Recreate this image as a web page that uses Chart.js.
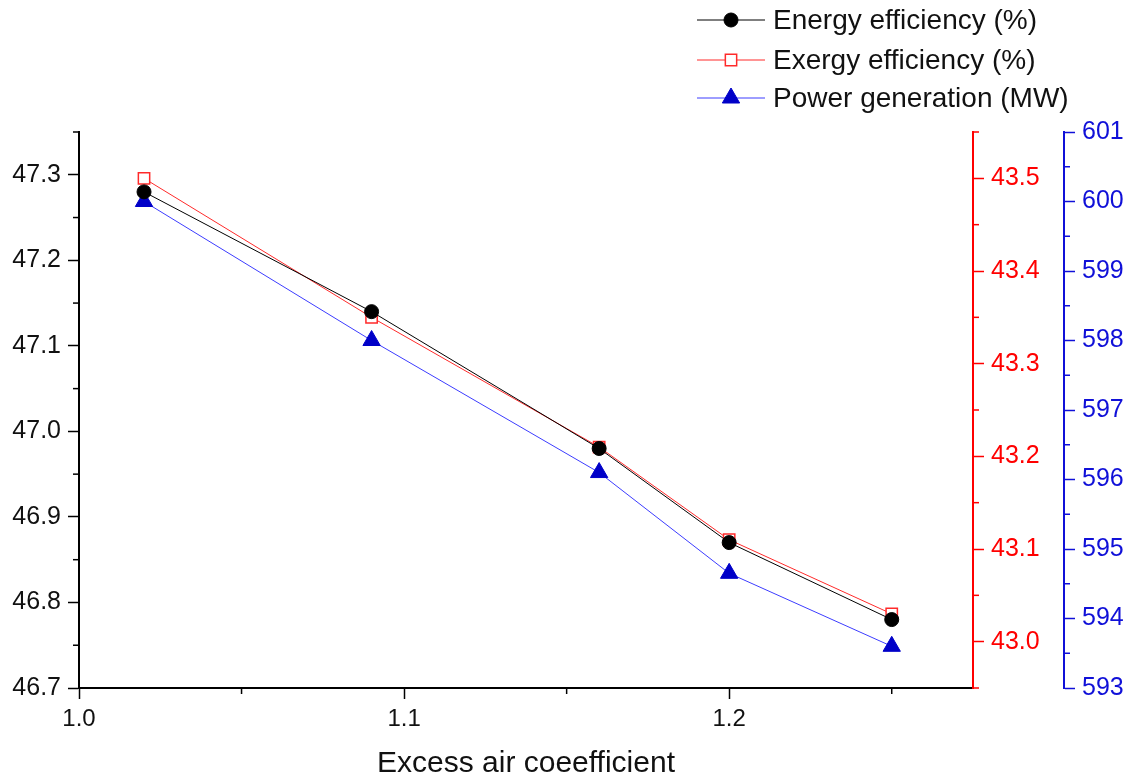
<!DOCTYPE html>
<html><head><meta charset="utf-8">
<script src="https://cdn.jsdelivr.net/npm/chart.js@4/dist/chart.umd.min.js"></script>
<style>html,body{margin:0;padding:0;background:#fff;}#wrap{width:1129px;height:780px;}</style>
</head><body><div id="wrap"><canvas id="c" width="1129" height="780"></canvas></div>
<script>
const excessAir = [1.02, 1.09, 1.16, 1.20, 1.25];
const energyEff = [47.28, 47.14, 46.98, 46.87, 46.78];
const exergyEff = [43.50, 43.35, 43.21, 43.11, 43.03];
const powerGen = [600.0, 598.0, 596.1, 594.65, 593.6];
const seriesNames = ['Energy efficiency (%)', 'Exergy efficiency (%)', 'Power generation (MW)'];
const xTitle = 'Excess air coeefficient';

const FONT = "'Liberation Sans', Arial, sans-serif";
const RED = '#ff0000';
const BLUE = '#1010d8';
const majorStep = {x: 0.1, y: 0.1, yRed: 0.1, yBlue: 1};
function isMajor(id, v) {
  const r = v / majorStep[id];
  return Math.abs(r - Math.round(r)) < 1e-6;
}
function pts(ys) { return excessAir.map((x, i) => ({x: x, y: ys[i]})); }

const minorTicks = {
  id: 'minorTicks',
  afterDraw(chart) {
    const ctx = chart.ctx;
    ctx.save();
    for (const id of Object.keys(majorStep)) {
      const s = chart.scales[id];
      ctx.strokeStyle = s.options.border.color; ctx.lineWidth = 1.5;
      for (const t of s.ticks) {
        if (isMajor(id, t.value)) continue;
        const p = s.getPixelForValue(t.value);
        ctx.beginPath();
        if (id === 'x') { ctx.moveTo(p, s.top); ctx.lineTo(p, s.top + 6); }
        else if (s.position === 'left') { ctx.moveTo(s.right, p); ctx.lineTo(s.right - 6, p); }
        else { ctx.moveTo(s.left, p); ctx.lineTo(s.left + 6, p); }
        ctx.stroke();
      }
    }
    ctx.restore();
  }
};

const customLegend = {
  id: 'customLegend',
  afterDraw(chart) {
    const ctx = chart.ctx;
    const rows = [20, 60, 98];
    ctx.save();
    chart.data.datasets.forEach((ds, i) => {
      const y = rows[i];
      ctx.strokeStyle = ds.borderColor; ctx.lineWidth = 1;
      ctx.beginPath(); ctx.moveTo(697, y); ctx.lineTo(765, y); ctx.stroke();
      ctx.fillStyle = ds.pointBackgroundColor; ctx.strokeStyle = ds.pointBorderColor;
      ctx.lineWidth = ds.pointBorderWidth;
      Chart.helpers.drawPoint(ctx, {pointStyle: ds.pointStyle, radius: ds.pointRadius, rotation: 0, borderWidth: ds.pointBorderWidth}, 731, y);
      ctx.fillStyle = '#111';
      ctx.font = '28px ' + FONT;
      ctx.textBaseline = 'middle'; ctx.textAlign = 'left';
      ctx.fillText(seriesNames[i], 773, y + 1);
    });
    ctx.restore();
  }
};

function gridOpts(id, color) {
  return {
    display: true, drawOnChartArea: false, drawTicks: true, tickLength: 11, tickWidth: 1.5,
    tickColor: (c) => (c.tick && isMajor(id, c.tick.value)) ? color : 'rgba(0,0,0,0)'
  };
}

new Chart(document.getElementById('c'), {
  type: 'line',
  data: {
    datasets: [
      {label: seriesNames[0], data: pts(energyEff), yAxisID: 'y', borderColor: '#000', backgroundColor: '#000',
       borderWidth: 1, pointStyle: 'circle', pointRadius: 7, pointBackgroundColor: '#000', pointBorderColor: '#000', pointBorderWidth: 1},
      {label: seriesNames[1], data: pts(exergyEff), yAxisID: 'yRed', borderColor: '#ff2a2a', backgroundColor: '#fff',
       borderWidth: 1, pointStyle: 'rect', pointRadius: 8, pointBackgroundColor: '#fff', pointBorderColor: '#ff2a2a', pointBorderWidth: 1.5},
      {label: seriesNames[2], data: pts(powerGen), yAxisID: 'yBlue', borderColor: '#3c3cff', backgroundColor: '#0000c8',
       borderWidth: 1, pointStyle: 'triangle', pointRadius: 10, pointBackgroundColor: '#0000c8', pointBorderColor: '#0000c8', pointBorderWidth: 1}
    ]
  },
  options: {
    responsive: false, animation: false, devicePixelRatio: 1,
    layout: {padding: {top: 132, left: 0, right: 0, bottom: 0}},
    plugins: {legend: {display: false}, tooltip: {enabled: false}},
    elements: {line: {tension: 0}},
    clip: false,
    scales: {
      x: {
        type: 'linear', min: 1.0, max: 1.275,
        afterFit: (s) => { s.height = 92; },
        border: {display: true, color: '#000', width: 2},
        grid: gridOpts('x', '#000'),
        ticks: {stepSize: 0.05, includeBounds: false, autoSkip: false, maxRotation: 0, padding: 6,
                color: '#111', font: {family: FONT, size: 24},
                callback: (v) => isMajor('x', v) ? v.toFixed(1) : ''},
        title: {display: true, text: xTitle, color: '#111', font: {family: FONT, size: 30}, padding: {top: 4, bottom: -2}}
      },
      y: {
        type: 'linear', position: 'left', min: 46.7, max: 47.35,
        afterFit: (s) => { s.width = 79; },
        border: {display: true, color: '#000', width: 2},
        grid: gridOpts('y', '#000'),
        ticks: {stepSize: 0.05, includeBounds: false, autoSkip: false, padding: 7,
                color: '#111', font: {family: FONT, size: 25},
                callback: (v) => isMajor('y', v) ? v.toFixed(1) : ''}
      },
      yRed: {
        type: 'linear', position: 'right', weight: 0, min: 42.95, max: 43.55,
        afterFit: (s) => { s.width = 91; },
        border: {display: true, color: RED, width: 2},
        grid: gridOpts('yRed', RED),
        ticks: {stepSize: 0.05, includeBounds: false, autoSkip: false, padding: 7,
                color: RED, font: {family: FONT, size: 25},
                callback: (v) => isMajor('yRed', v) ? v.toFixed(1) : ''}
      },
      yBlue: {
        type: 'linear', position: 'right', weight: 1, min: 593, max: 601,
        afterFit: (s) => { s.width = 65; },
        border: {display: true, color: BLUE, width: 2},
        grid: gridOpts('yBlue', BLUE),
        ticks: {stepSize: 0.5, includeBounds: false, autoSkip: false, padding: 7,
                color: BLUE, font: {family: FONT, size: 25},
                callback: (v) => isMajor('yBlue', v) ? v.toFixed(0) : ''}
      }
    }
  },
  plugins: [minorTicks, customLegend]
});
</script>
</body></html>
